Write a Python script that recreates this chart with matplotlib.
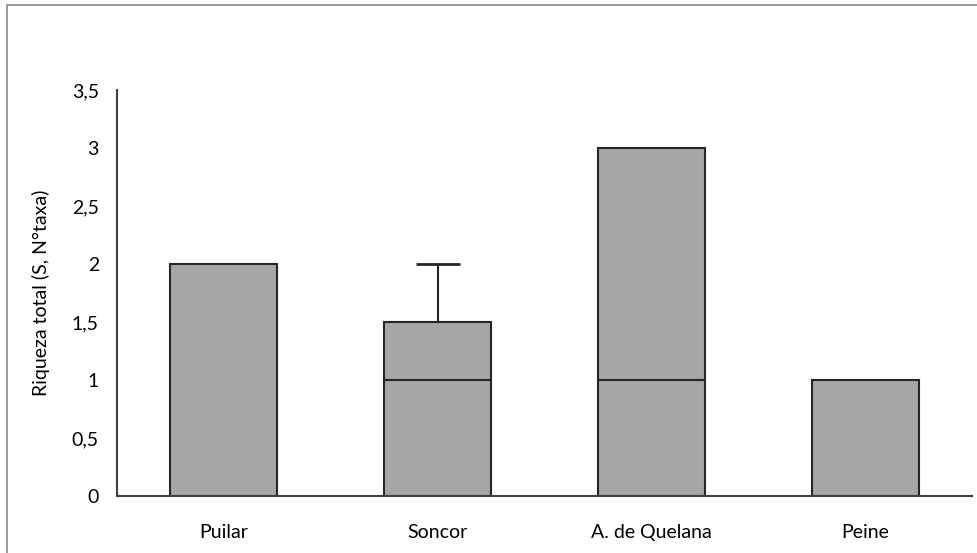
import matplotlib
matplotlib.use("Agg")
import matplotlib.pyplot as plt
from matplotlib.patches import Rectangle
from matplotlib.ticker import FuncFormatter, MultipleLocator

# Riqueza total por sitio
sites = ["Puilar", "Soncor", "A. de Quelana", "Peine"]
lower = [2, 1, 1, 1]
upper = [0, 0.5, 2, 0]
upper_err = [0, 0.5, 0, 0]

plt.rcParams["font.family"] = ["Lato", "DejaVu Sans"]

fig = plt.figure(figsize=(9.77, 5.53), dpi=100)
ax = fig.add_axes([117 / 977, 1 - 496 / 553, (972 - 117) / 977, (496 - 90) / 553])

# outer frame
fig.patches.append(Rectangle((7 / 977, -0.1), 1.2, (1 - 5 / 553) + 0.1,
                             transform=fig.transFigure, fill=False,
                             edgecolor="#8c8c8c", linewidth=1.2))

x = list(range(len(sites)))
fill = "#a6a6a6"
edge = "#262626"
ax.bar(x, lower, width=0.5, color=fill, edgecolor=edge, linewidth=1.5, zorder=2)
bars_top = ax.bar(x, upper, width=0.5, bottom=lower, color=fill, edgecolor=edge,
                  linewidth=1.5, zorder=2)
for i, (b, u, e) in enumerate(zip(lower, upper, upper_err)):
    if u == 0:
        bars_top[i].set_visible(False)
    if e > 0:
        ax.errorbar(i, b + u, yerr=[[0], [e]], fmt="none", ecolor=edge,
                    elinewidth=1.5, capsize=16, capthick=2, zorder=1)

ax.set_xlim(-0.5, len(sites) - 0.5)
ax.set_ylim(0, 3.5)
ax.yaxis.set_major_locator(MultipleLocator(0.5))
ax.yaxis.set_major_formatter(FuncFormatter(
    lambda v, p: ("%g" % v).replace(".", ",")))
ax.set_xticks(x)
ax.set_xticklabels(sites)
ax.tick_params(axis="both", length=0, labelsize=14, colors="black")
ax.tick_params(axis="x", pad=20)
ax.tick_params(axis="y", pad=13)
for s in ["top", "right"]:
    ax.spines[s].set_visible(False)
for s in ["left", "bottom"]:
    ax.spines[s].set_color("#404040")
    ax.spines[s].set_linewidth(1.5)
ax.set_ylabel("Riqueza total (S, N°taxa)", fontsize=14, labelpad=16)

fig.savefig("out.png", dpi=100)
